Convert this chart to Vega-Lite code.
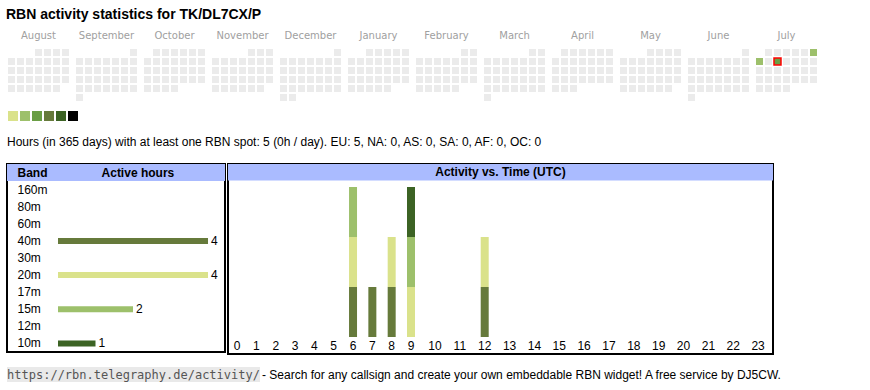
{
  "$schema": "https://vega.github.io/schema/vega-lite/v6.json",
  "background": "white",
  "padding": {"left": 6, "top": 8, "right": 5, "bottom": 5},
  "spacing": 9,
  "title": {"text": "RBN activity statistics for TK/DL7CX/P", "anchor": "start", "fontSize": 14, "fontWeight": "bold", "font": "Liberation Sans", "color": "#000000", "baseline": "top", "offset": 8},
  "resolve": {"scale": {"color": "independent"}},
  "config": {
    "view": {"stroke": null},
    "font": "Liberation Sans",
    "text": {"font": "Liberation Sans", "fontSize": 12, "color": "#000000"}
  },
  "datasets": {
    "cal": [
      {"m":"August","w":0,"d":4,"v":0},{"m":"August","w":0,"d":5,"v":0},{"m":"August","w":0,"d":6,"v":0},{"m":"August","w":0,"d":7,"v":0},
      {"m":"August","w":1,"d":1,"v":0},{"m":"August","w":1,"d":2,"v":0},{"m":"August","w":1,"d":3,"v":0},{"m":"August","w":1,"d":4,"v":0},{"m":"August","w":1,"d":5,"v":0},{"m":"August","w":1,"d":6,"v":0},{"m":"August","w":1,"d":7,"v":0},
      {"m":"August","w":2,"d":1,"v":0},{"m":"August","w":2,"d":2,"v":0},{"m":"August","w":2,"d":3,"v":0},{"m":"August","w":2,"d":4,"v":0},{"m":"August","w":2,"d":5,"v":0},{"m":"August","w":2,"d":6,"v":0},{"m":"August","w":2,"d":7,"v":0},
      {"m":"August","w":3,"d":1,"v":0},{"m":"August","w":3,"d":2,"v":0},{"m":"August","w":3,"d":3,"v":0},{"m":"August","w":3,"d":4,"v":0},{"m":"August","w":3,"d":5,"v":0},{"m":"August","w":3,"d":6,"v":0},{"m":"August","w":3,"d":7,"v":0},
      {"m":"August","w":4,"d":1,"v":0},{"m":"August","w":4,"d":2,"v":0},{"m":"August","w":4,"d":3,"v":0},{"m":"August","w":4,"d":4,"v":0},{"m":"August","w":4,"d":5,"v":0},{"m":"August","w":4,"d":6,"v":0},
      {"m":"September","w":0,"d":7,"v":0},
      {"m":"September","w":1,"d":1,"v":0},{"m":"September","w":1,"d":2,"v":0},{"m":"September","w":1,"d":3,"v":0},{"m":"September","w":1,"d":4,"v":0},{"m":"September","w":1,"d":5,"v":0},{"m":"September","w":1,"d":6,"v":0},{"m":"September","w":1,"d":7,"v":0},
      {"m":"September","w":2,"d":1,"v":0},{"m":"September","w":2,"d":2,"v":0},{"m":"September","w":2,"d":3,"v":0},{"m":"September","w":2,"d":4,"v":0},{"m":"September","w":2,"d":5,"v":0},{"m":"September","w":2,"d":6,"v":0},{"m":"September","w":2,"d":7,"v":0},
      {"m":"September","w":3,"d":1,"v":0},{"m":"September","w":3,"d":2,"v":0},{"m":"September","w":3,"d":3,"v":0},{"m":"September","w":3,"d":4,"v":0},{"m":"September","w":3,"d":5,"v":0},{"m":"September","w":3,"d":6,"v":0},{"m":"September","w":3,"d":7,"v":0},
      {"m":"September","w":4,"d":1,"v":0},{"m":"September","w":4,"d":2,"v":0},{"m":"September","w":4,"d":3,"v":0},{"m":"September","w":4,"d":4,"v":0},{"m":"September","w":4,"d":5,"v":0},{"m":"September","w":4,"d":6,"v":0},{"m":"September","w":4,"d":7,"v":0},
      {"m":"September","w":5,"d":1,"v":0},
      {"m":"October","w":0,"d":2,"v":0},{"m":"October","w":0,"d":3,"v":0},{"m":"October","w":0,"d":4,"v":0},{"m":"October","w":0,"d":5,"v":0},{"m":"October","w":0,"d":6,"v":0},{"m":"October","w":0,"d":7,"v":0},
      {"m":"October","w":1,"d":1,"v":0},{"m":"October","w":1,"d":2,"v":0},{"m":"October","w":1,"d":3,"v":0},{"m":"October","w":1,"d":4,"v":0},{"m":"October","w":1,"d":5,"v":0},{"m":"October","w":1,"d":6,"v":0},{"m":"October","w":1,"d":7,"v":0},
      {"m":"October","w":2,"d":1,"v":0},{"m":"October","w":2,"d":2,"v":0},{"m":"October","w":2,"d":3,"v":0},{"m":"October","w":2,"d":4,"v":0},{"m":"October","w":2,"d":5,"v":0},{"m":"October","w":2,"d":6,"v":0},{"m":"October","w":2,"d":7,"v":0},
      {"m":"October","w":3,"d":1,"v":0},{"m":"October","w":3,"d":2,"v":0},{"m":"October","w":3,"d":3,"v":0},{"m":"October","w":3,"d":4,"v":0},{"m":"October","w":3,"d":5,"v":0},{"m":"October","w":3,"d":6,"v":0},{"m":"October","w":3,"d":7,"v":0},
      {"m":"October","w":4,"d":1,"v":0},{"m":"October","w":4,"d":2,"v":0},{"m":"October","w":4,"d":3,"v":0},{"m":"October","w":4,"d":4,"v":0},
      {"m":"November","w":0,"d":5,"v":0},{"m":"November","w":0,"d":6,"v":0},{"m":"November","w":0,"d":7,"v":0},
      {"m":"November","w":1,"d":1,"v":0},{"m":"November","w":1,"d":2,"v":0},{"m":"November","w":1,"d":3,"v":0},{"m":"November","w":1,"d":4,"v":0},{"m":"November","w":1,"d":5,"v":0},{"m":"November","w":1,"d":6,"v":0},{"m":"November","w":1,"d":7,"v":0},
      {"m":"November","w":2,"d":1,"v":0},{"m":"November","w":2,"d":2,"v":0},{"m":"November","w":2,"d":3,"v":0},{"m":"November","w":2,"d":4,"v":0},{"m":"November","w":2,"d":5,"v":0},{"m":"November","w":2,"d":6,"v":0},{"m":"November","w":2,"d":7,"v":0},
      {"m":"November","w":3,"d":1,"v":0},{"m":"November","w":3,"d":2,"v":0},{"m":"November","w":3,"d":3,"v":0},{"m":"November","w":3,"d":4,"v":0},{"m":"November","w":3,"d":5,"v":0},{"m":"November","w":3,"d":6,"v":0},{"m":"November","w":3,"d":7,"v":0},
      {"m":"November","w":4,"d":1,"v":0},{"m":"November","w":4,"d":2,"v":0},{"m":"November","w":4,"d":3,"v":0},{"m":"November","w":4,"d":4,"v":0},{"m":"November","w":4,"d":5,"v":0},{"m":"November","w":4,"d":6,"v":0},
      {"m":"December","w":0,"d":7,"v":0},
      {"m":"December","w":1,"d":1,"v":0},{"m":"December","w":1,"d":2,"v":0},{"m":"December","w":1,"d":3,"v":0},{"m":"December","w":1,"d":4,"v":0},{"m":"December","w":1,"d":5,"v":0},{"m":"December","w":1,"d":6,"v":0},{"m":"December","w":1,"d":7,"v":0},
      {"m":"December","w":2,"d":1,"v":0},{"m":"December","w":2,"d":2,"v":0},{"m":"December","w":2,"d":3,"v":0},{"m":"December","w":2,"d":4,"v":0},{"m":"December","w":2,"d":5,"v":0},{"m":"December","w":2,"d":6,"v":0},{"m":"December","w":2,"d":7,"v":0},
      {"m":"December","w":3,"d":1,"v":0},{"m":"December","w":3,"d":2,"v":0},{"m":"December","w":3,"d":3,"v":0},{"m":"December","w":3,"d":4,"v":0},{"m":"December","w":3,"d":5,"v":0},{"m":"December","w":3,"d":6,"v":0},{"m":"December","w":3,"d":7,"v":0},
      {"m":"December","w":4,"d":1,"v":0},{"m":"December","w":4,"d":2,"v":0},{"m":"December","w":4,"d":3,"v":0},{"m":"December","w":4,"d":4,"v":0},{"m":"December","w":4,"d":5,"v":0},{"m":"December","w":4,"d":6,"v":0},{"m":"December","w":4,"d":7,"v":0},
      {"m":"December","w":5,"d":1,"v":0},{"m":"December","w":5,"d":2,"v":0},
      {"m":"January","w":0,"d":3,"v":0},{"m":"January","w":0,"d":4,"v":0},{"m":"January","w":0,"d":5,"v":0},{"m":"January","w":0,"d":6,"v":0},{"m":"January","w":0,"d":7,"v":0},
      {"m":"January","w":1,"d":1,"v":0},{"m":"January","w":1,"d":2,"v":0},{"m":"January","w":1,"d":3,"v":0},{"m":"January","w":1,"d":4,"v":0},{"m":"January","w":1,"d":5,"v":0},{"m":"January","w":1,"d":6,"v":0},{"m":"January","w":1,"d":7,"v":0},
      {"m":"January","w":2,"d":1,"v":0},{"m":"January","w":2,"d":2,"v":0},{"m":"January","w":2,"d":3,"v":0},{"m":"January","w":2,"d":4,"v":0},{"m":"January","w":2,"d":5,"v":0},{"m":"January","w":2,"d":6,"v":0},{"m":"January","w":2,"d":7,"v":0},
      {"m":"January","w":3,"d":1,"v":0},{"m":"January","w":3,"d":2,"v":0},{"m":"January","w":3,"d":3,"v":0},{"m":"January","w":3,"d":4,"v":0},{"m":"January","w":3,"d":5,"v":0},{"m":"January","w":3,"d":6,"v":0},{"m":"January","w":3,"d":7,"v":0},
      {"m":"January","w":4,"d":1,"v":0},{"m":"January","w":4,"d":2,"v":0},{"m":"January","w":4,"d":3,"v":0},{"m":"January","w":4,"d":4,"v":0},{"m":"January","w":4,"d":5,"v":0},
      {"m":"February","w":0,"d":6,"v":0},{"m":"February","w":0,"d":7,"v":0},
      {"m":"February","w":1,"d":1,"v":0},{"m":"February","w":1,"d":2,"v":0},{"m":"February","w":1,"d":3,"v":0},{"m":"February","w":1,"d":4,"v":0},{"m":"February","w":1,"d":5,"v":0},{"m":"February","w":1,"d":6,"v":0},{"m":"February","w":1,"d":7,"v":0},
      {"m":"February","w":2,"d":1,"v":0},{"m":"February","w":2,"d":2,"v":0},{"m":"February","w":2,"d":3,"v":0},{"m":"February","w":2,"d":4,"v":0},{"m":"February","w":2,"d":5,"v":0},{"m":"February","w":2,"d":6,"v":0},{"m":"February","w":2,"d":7,"v":0},
      {"m":"February","w":3,"d":1,"v":0},{"m":"February","w":3,"d":2,"v":0},{"m":"February","w":3,"d":3,"v":0},{"m":"February","w":3,"d":4,"v":0},{"m":"February","w":3,"d":5,"v":0},{"m":"February","w":3,"d":6,"v":0},{"m":"February","w":3,"d":7,"v":0},
      {"m":"February","w":4,"d":1,"v":0},{"m":"February","w":4,"d":2,"v":0},{"m":"February","w":4,"d":3,"v":0},{"m":"February","w":4,"d":4,"v":0},{"m":"February","w":4,"d":5,"v":0},
      {"m":"March","w":0,"d":6,"v":0},{"m":"March","w":0,"d":7,"v":0},
      {"m":"March","w":1,"d":1,"v":0},{"m":"March","w":1,"d":2,"v":0},{"m":"March","w":1,"d":3,"v":0},{"m":"March","w":1,"d":4,"v":0},{"m":"March","w":1,"d":5,"v":0},{"m":"March","w":1,"d":6,"v":0},{"m":"March","w":1,"d":7,"v":0},
      {"m":"March","w":2,"d":1,"v":0},{"m":"March","w":2,"d":2,"v":0},{"m":"March","w":2,"d":3,"v":0},{"m":"March","w":2,"d":4,"v":0},{"m":"March","w":2,"d":5,"v":0},{"m":"March","w":2,"d":6,"v":0},{"m":"March","w":2,"d":7,"v":0},
      {"m":"March","w":3,"d":1,"v":0},{"m":"March","w":3,"d":2,"v":0},{"m":"March","w":3,"d":3,"v":0},{"m":"March","w":3,"d":4,"v":0},{"m":"March","w":3,"d":5,"v":0},{"m":"March","w":3,"d":6,"v":0},{"m":"March","w":3,"d":7,"v":0},
      {"m":"March","w":4,"d":1,"v":0},{"m":"March","w":4,"d":2,"v":0},{"m":"March","w":4,"d":3,"v":0},{"m":"March","w":4,"d":4,"v":0},{"m":"March","w":4,"d":5,"v":0},{"m":"March","w":4,"d":6,"v":0},{"m":"March","w":4,"d":7,"v":0},
      {"m":"March","w":5,"d":1,"v":0},
      {"m":"April","w":0,"d":2,"v":0},{"m":"April","w":0,"d":3,"v":0},{"m":"April","w":0,"d":4,"v":0},{"m":"April","w":0,"d":5,"v":0},{"m":"April","w":0,"d":6,"v":0},{"m":"April","w":0,"d":7,"v":0},
      {"m":"April","w":1,"d":1,"v":0},{"m":"April","w":1,"d":2,"v":0},{"m":"April","w":1,"d":3,"v":0},{"m":"April","w":1,"d":4,"v":0},{"m":"April","w":1,"d":5,"v":0},{"m":"April","w":1,"d":6,"v":0},{"m":"April","w":1,"d":7,"v":0},
      {"m":"April","w":2,"d":1,"v":0},{"m":"April","w":2,"d":2,"v":0},{"m":"April","w":2,"d":3,"v":0},{"m":"April","w":2,"d":4,"v":0},{"m":"April","w":2,"d":5,"v":0},{"m":"April","w":2,"d":6,"v":0},{"m":"April","w":2,"d":7,"v":0},
      {"m":"April","w":3,"d":1,"v":0},{"m":"April","w":3,"d":2,"v":0},{"m":"April","w":3,"d":3,"v":0},{"m":"April","w":3,"d":4,"v":0},{"m":"April","w":3,"d":5,"v":0},{"m":"April","w":3,"d":6,"v":0},{"m":"April","w":3,"d":7,"v":0},
      {"m":"April","w":4,"d":1,"v":0},{"m":"April","w":4,"d":2,"v":0},{"m":"April","w":4,"d":3,"v":0},
      {"m":"May","w":0,"d":4,"v":0},{"m":"May","w":0,"d":5,"v":0},{"m":"May","w":0,"d":6,"v":0},{"m":"May","w":0,"d":7,"v":0},
      {"m":"May","w":1,"d":1,"v":0},{"m":"May","w":1,"d":2,"v":0},{"m":"May","w":1,"d":3,"v":0},{"m":"May","w":1,"d":4,"v":0},{"m":"May","w":1,"d":5,"v":0},{"m":"May","w":1,"d":6,"v":0},{"m":"May","w":1,"d":7,"v":0},
      {"m":"May","w":2,"d":1,"v":0},{"m":"May","w":2,"d":2,"v":0},{"m":"May","w":2,"d":3,"v":0},{"m":"May","w":2,"d":4,"v":0},{"m":"May","w":2,"d":5,"v":0},{"m":"May","w":2,"d":6,"v":0},{"m":"May","w":2,"d":7,"v":0},
      {"m":"May","w":3,"d":1,"v":0},{"m":"May","w":3,"d":2,"v":0},{"m":"May","w":3,"d":3,"v":0},{"m":"May","w":3,"d":4,"v":0},{"m":"May","w":3,"d":5,"v":0},{"m":"May","w":3,"d":6,"v":0},{"m":"May","w":3,"d":7,"v":0},
      {"m":"May","w":4,"d":1,"v":0},{"m":"May","w":4,"d":2,"v":0},{"m":"May","w":4,"d":3,"v":0},{"m":"May","w":4,"d":4,"v":0},{"m":"May","w":4,"d":5,"v":0},{"m":"May","w":4,"d":6,"v":0},
      {"m":"June","w":0,"d":7,"v":0},
      {"m":"June","w":1,"d":1,"v":0},{"m":"June","w":1,"d":2,"v":0},{"m":"June","w":1,"d":3,"v":0},{"m":"June","w":1,"d":4,"v":0},{"m":"June","w":1,"d":5,"v":0},{"m":"June","w":1,"d":6,"v":0},{"m":"June","w":1,"d":7,"v":0},
      {"m":"June","w":2,"d":1,"v":0},{"m":"June","w":2,"d":2,"v":0},{"m":"June","w":2,"d":3,"v":0},{"m":"June","w":2,"d":4,"v":0},{"m":"June","w":2,"d":5,"v":0},{"m":"June","w":2,"d":6,"v":0},{"m":"June","w":2,"d":7,"v":0},
      {"m":"June","w":3,"d":1,"v":0},{"m":"June","w":3,"d":2,"v":0},{"m":"June","w":3,"d":3,"v":0},{"m":"June","w":3,"d":4,"v":0},{"m":"June","w":3,"d":5,"v":0},{"m":"June","w":3,"d":6,"v":0},{"m":"June","w":3,"d":7,"v":0},
      {"m":"June","w":4,"d":1,"v":0},{"m":"June","w":4,"d":2,"v":0},{"m":"June","w":4,"d":3,"v":0},{"m":"June","w":4,"d":4,"v":0},{"m":"June","w":4,"d":5,"v":0},{"m":"June","w":4,"d":6,"v":0},{"m":"June","w":4,"d":7,"v":0},
      {"m":"June","w":5,"d":1,"v":0},
      {"m":"July","w":0,"d":2,"v":0},{"m":"July","w":0,"d":3,"v":0},{"m":"July","w":0,"d":4,"v":0},{"m":"July","w":0,"d":5,"v":0},{"m":"July","w":0,"d":6,"v":0},{"m":"July","w":0,"d":7,"v":2},
      {"m":"July","w":1,"d":1,"v":2},{"m":"July","w":1,"d":2,"v":0},{"m":"July","w":1,"d":3,"v":3,"today":1},{"m":"July","w":1,"d":4,"v":0},{"m":"July","w":1,"d":5,"v":0},{"m":"July","w":1,"d":6,"v":0},{"m":"July","w":1,"d":7,"v":0},
      {"m":"July","w":2,"d":1,"v":0},{"m":"July","w":2,"d":2,"v":0},{"m":"July","w":2,"d":3,"v":0},{"m":"July","w":2,"d":4,"v":0},{"m":"July","w":2,"d":5,"v":0},{"m":"July","w":2,"d":6,"v":0},{"m":"July","w":2,"d":7,"v":0},
      {"m":"July","w":3,"d":1,"v":0},{"m":"July","w":3,"d":2,"v":0},{"m":"July","w":3,"d":3,"v":0},{"m":"July","w":3,"d":4,"v":0},{"m":"July","w":3,"d":5,"v":0},{"m":"July","w":3,"d":6,"v":0},{"m":"July","w":3,"d":7,"v":0},
      {"m":"July","w":4,"d":1,"v":0},{"m":"July","w":4,"d":2,"v":0},{"m":"July","w":4,"d":3,"v":0},{"m":"July","w":4,"d":4,"v":0}
    ],
    "months": [
      {"m":"August","w":-2},{"m":"September","w":-2},{"m":"October","w":-2},{"m":"November","w":-2},{"m":"December","w":-2},{"m":"January","w":-2},
      {"m":"February","w":-2},{"m":"March","w":-2},{"m":"April","w":-2},{"m":"May","w":-2},{"m":"June","w":-2},{"m":"July","w":-2}
    ],
    "bands": [
      {"band":"40m","hours":4},
      {"band":"20m","hours":4},
      {"band":"15m","hours":2},
      {"band":"10m","hours":1}
    ],
    "activity": [
      {"hour":6,"band":"40m","wl":40,"n":1},
      {"hour":6,"band":"20m","wl":20,"n":1},
      {"hour":6,"band":"15m","wl":15,"n":1},
      {"hour":7,"band":"40m","wl":40,"n":1},
      {"hour":8,"band":"40m","wl":40,"n":1},
      {"hour":8,"band":"20m","wl":20,"n":1},
      {"hour":9,"band":"20m","wl":20,"n":1},
      {"hour":9,"band":"15m","wl":15,"n":1},
      {"hour":9,"band":"10m","wl":10,"n":1},
      {"hour":12,"band":"40m","wl":40,"n":1},
      {"hour":12,"band":"20m","wl":20,"n":1}
    ],
    "hourlabels": [
      {"hour":0},{"hour":1},{"hour":2},{"hour":3},{"hour":4},{"hour":5},{"hour":6},{"hour":7},{"hour":8},{"hour":9},{"hour":10},{"hour":11},
      {"hour":12},{"hour":13},{"hour":14},{"hour":15},{"hour":16},{"hour":17},{"hour":18},{"hour":19},{"hour":20},{"hour":21},{"hour":22},{"hour":23}
    ]
  },
  "vconcat": [
    {
      "width": 811,
      "height": 72,
      "encoding": {
        "x": {
          "field": "m", "type": "nominal",
          "scale": {"domain": ["August","September","October","November","December","January","February","March","April","May","June","July"], "paddingInner": 0.0735, "paddingOuter": 0},
          "axis": null
        },
        "y": {"field": "w", "type": "ordinal", "scale": {"domain": [-2,-1,0,1,2,3,4,5], "paddingInner": 0.2222, "paddingOuter": 0.1111}, "axis": null}
      },
      "layer": [
        {
          "data": {"name": "months"},
          "mark": {"type": "text", "font": "DejaVu Sans", "fontSize": 10, "color": "#a0a0a0", "align": "center", "baseline": "middle", "dy": 1},
          "encoding": {"text": {"field": "m"}}
        },
        {
          "data": {"name": "cal"},
          "mark": {"type": "rect"},
          "encoding": {
            "xOffset": {"field": "d", "type": "ordinal", "scale": {"domain": [1,2,3,4,5,6,7], "paddingInner": 0.2222, "paddingOuter": 0.1111}},
            "color": {"field": "v", "type": "ordinal", "scale": {"domain": [0,1,2,3,4,5,6], "range": ["#ebebeb","#dae28b","#9dc06b","#6a9e45","#667a3b","#3c6324","#000000"]}, "legend": null}
          }
        },
        {
          "data": {"name": "cal"},
          "transform": [{"filter": "datum.today == 1"}],
          "mark": {"type": "rect", "filled": false, "stroke": "#ff0000", "strokeWidth": 1.5},
          "encoding": {
            "xOffset": {"field": "d", "type": "ordinal"}
          }
        }
      ]
    },
    {
      "width": 72,
      "height": 10,
      "data": {"values": [{"lvl":1},{"lvl":2},{"lvl":3},{"lvl":4},{"lvl":5},{"lvl":6}]},
      "mark": {"type": "rect"},
      "encoding": {
        "x": {"field": "lvl", "type": "ordinal", "scale": {"paddingInner": 0.1667, "paddingOuter": 0.0833}, "axis": null},
        "color": {"field": "lvl", "type": "ordinal", "scale": {"domain": [1,2,3,4,5,6], "range": ["#dae28b","#9dc06b","#6a9e45","#667a3b","#3c6324","#000000"]}, "legend": null}
      }
    },
    {
      "width": 540,
      "height": 24,
      "data": {"values": [{"t": "Hours (in 365 days) with at least one RBN spot: 5 (0h / day). EU: 5, NA: 0, AS: 0, SA: 0, AF: 0, OC: 0"}]},
      "mark": {"type": "text", "align": "left", "baseline": "middle", "fontSize": 12, "font": "Liberation Sans", "color": "#000000"},
      "encoding": {
        "text": {"field": "t"},
        "x": {"datum": 0, "type": "quantitative", "scale": {"domain": [0, 1], "nice": false}, "axis": null}
      }
    },
    {
      "spacing": 12,
      "vconcat": [
        {
          "spacing": 1,
          "hconcat": [
            {
              "width": 218,
              "height": 188,
              "view": {"stroke": "#000000", "strokeWidth": 2},
              "encoding": {
                "y": {
                  "field": "band", "type": "ordinal",
                  "scale": {"domain": ["Band","160m","80m","60m","40m","30m","20m","17m","15m","12m","10m"], "paddingInner": 0, "paddingOuter": 0},
                  "axis": {"title": null, "domain": false, "ticks": false, "tickSize": 0, "grid": false, "labelAlign": "left", "labelPadding": -10, "labelBaseline": "middle", "labelFont": "Liberation Sans", "labelFontSize": 12, "labelColor": "#000000", "labelFontWeight": {"condition": {"test": "datum.value == 'Band'", "value": "bold"}, "value": "normal"}, "zindex": 1}
                }
              },
              "layer": [
                {
                  "data": {"values": [{"band": "Band", "label": "Active hours"}]},
                  "mark": {"type": "rect", "color": "#aabbff"},
                  "encoding": {
                    "x": {"datum": -1.36, "type": "quantitative", "axis": null},
                    "x2": {"datum": 4.453}
                  }
                },
                {
                  "data": {"values": [{"band": "Band", "label": "Active hours"}]},
                  "mark": {"type": "text", "fontWeight": "bold", "fontSize": 12, "align": "center", "baseline": "middle"},
                  "encoding": {
                    "x": {"datum": 2.13, "type": "quantitative", "axis": null},
                    "text": {"field": "label"}
                  }
                },
                {
                  "data": {"name": "bands"},
                  "mark": {"type": "bar", "size": 6},
                  "encoding": {
                    "x": {"field": "hours", "type": "quantitative", "scale": {"domain": [-1.36, 4.453], "nice": false}, "axis": null},
                    "color": {"field": "band", "type": "nominal", "scale": {"domain": ["40m","20m","15m","10m"], "range": ["#667a3b","#dae28b","#9dc06b","#3c6324"]}, "legend": null}
                  }
                },
                {
                  "data": {"name": "bands"},
                  "mark": {"type": "text", "align": "left", "baseline": "middle", "dx": 3, "fontSize": 12},
                  "encoding": {
                    "x": {"field": "hours", "type": "quantitative", "axis": null},
                    "text": {"field": "hours"}
                  }
                }
              ]
            },
            {
              "width": 545,
              "height": 190,
              "view": {"stroke": "#000000", "strokeWidth": 2},
              "layer": [
                {
                  "data": {"values": [{"label": "Activity vs. Time (UTC)"}]},
                  "mark": {"type": "rect", "color": "#aabbff"},
                  "encoding": {
                    "x": {"datum": -0.47, "type": "quantitative", "axis": null},
                    "x2": {"datum": 23.6},
                    "y": {"datum": 3.46, "type": "quantitative", "axis": null},
                    "y2": {"datum": 3.13}
                  }
                },
                {
                  "data": {"values": [{"label": "Activity vs. Time (UTC)"}]},
                  "mark": {"type": "text", "fontWeight": "bold", "fontSize": 12, "align": "center", "baseline": "middle"},
                  "encoding": {
                    "y": {"datum": 3.3, "type": "quantitative", "axis": null},
                    "text": {"field": "label"}
                  }
                },
                {
                  "data": {"name": "activity"},
                  "mark": {"type": "bar", "size": 8},
                  "encoding": {
                    "x": {
                      "field": "hour", "type": "quantitative",
                      "scale": {"domain": [-0.47, 9, 10, 23.6], "range": [0, 183, 207, 545], "nice": false, "zero": false, "padding": 0},
                      "axis": null
                    },
                    "y": {"field": "n", "type": "quantitative", "stack": "zero", "scale": {"domain": [-0.34, 3.46], "nice": false, "zero": false}, "axis": null},
                    "color": {"field": "band", "type": "nominal", "scale": {"domain": ["40m","20m","15m","10m"], "range": ["#667a3b","#dae28b","#9dc06b","#3c6324"]}, "legend": null},
                    "order": {"field": "wl", "sort": "descending"}
                  }
                },
                {
                  "data": {"name": "hourlabels"},
                  "mark": {"type": "text", "align": "center", "baseline": "middle", "fontSize": 12, "font": "Liberation Sans", "color": "#000000"},
                  "encoding": {
                    "x": {"field": "hour", "type": "quantitative", "axis": null},
                    "y": {"datum": -0.18, "type": "quantitative", "axis": null},
                    "text": {"field": "hour"}
                  }
                }
              ]
            }
          ]
        },
        {
          "spacing": 2,
          "hconcat": [
            {
              "width": 253,
              "height": 15,
              "view": {"fill": "#e9e9e9", "stroke": null},
              "data": {"values": [{"t": "https://rbn.telegraphy.de/activity/"}]},
              "mark": {"type": "text", "align": "center", "baseline": "middle", "font": "DejaVu Sans Mono", "fontSize": 12, "color": "#555555"},
              "encoding": {"text": {"field": "t"}}
            },
            {
              "width": 530,
              "height": 15,
              "data": {"values": [{"t": "- Search for any callsign and create your own embeddable RBN widget! A free service by DJ5CW."}]},
              "mark": {"type": "text", "align": "left", "baseline": "middle", "fontSize": 12, "font": "Liberation Sans", "color": "#000000"},
              "encoding": {
                "text": {"field": "t"},
                "x": {"datum": 0, "type": "quantitative", "scale": {"domain": [0, 1], "nice": false}, "axis": null}
              }
            }
          ]
        }
      ]
    }
  ]
}
